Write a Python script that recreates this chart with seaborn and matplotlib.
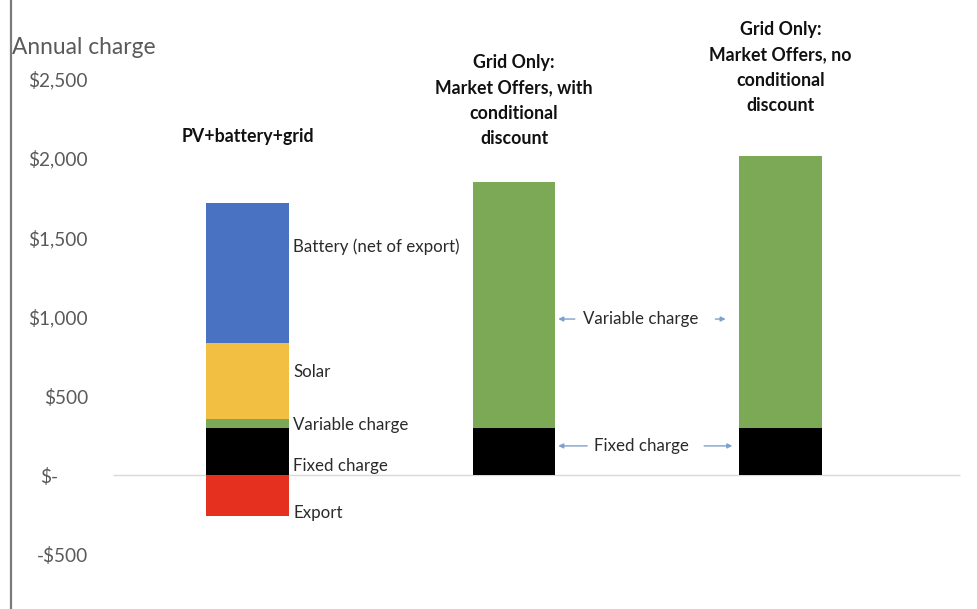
import matplotlib
matplotlib.use("Agg")
import matplotlib.pyplot as plt
from matplotlib.transforms import ScaledTranslation
import seaborn as sns
import pandas as pd

# ---- data ----
categories = ["PV+battery+grid",
              "Grid Only:\nMarket Offers, with\nconditional\ndiscount",
              "Grid Only:\nMarket Offers, no\nconditional\ndiscount"]
fixed_charge = [300, 300, 300]
variable_charge = [56, 1548, 1712]
solar = [478, 0, 0]
battery = [882, 0, 0]
export = [-255, 0, 0]
tick_values = [-500, 0, 500, 1000, 1500, 2000, 2500]
tick_labels = ["-$500", "$-", "$500", "$1,000", "$1,500", "$2,000", "$2,500"]

sns.set_theme(style="white")
plt.rcParams["font.family"] = ["Lato", "DejaVu Sans"]

fig = plt.figure(figsize=(9.78, 6.09), dpi=100)
ax = fig.add_axes([0, 0, 1, 1])

df = pd.DataFrame({"cat": categories, "fixed": fixed_charge, "variable": variable_charge,
                   "solar": solar, "battery": battery, "export": export})

W = 0.311
common = dict(x="cat", order=categories, width=W, saturation=1, errorbar=None,
              ax=ax, linewidth=0, edgecolor="none")
sns.barplot(data=df, y="fixed", color="#000000", **common)
sns.barplot(data=df, y="variable", bottom=df["fixed"], color="#7BA955", **common)
b2 = df["fixed"] + df["variable"]
sns.barplot(data=df, y="solar", bottom=b2, color="#F3BF43", **common)
b3 = b2 + df["solar"]
sns.barplot(data=df, y="battery", bottom=b3, color="#4A72C3", **common)
sns.barplot(data=df, y="export", color="#E5301F", **common)

# ---- axes layout ----
ax.set_xlim(-0.929, 2.741)
ax.set_ylim(-841, 2994)
for s in ax.spines.values():
    s.set_visible(False)
ax.set_xticks([])
ax.set_xlabel("")
ax.set_ylabel("")
ax.set_yticks(tick_values)
ax.set_yticklabels(tick_labels)
ax.tick_params(axis="y", length=0, pad=-63.4, labelsize=13.7, labelcolor="#5a5a5a")
for lab in ax.get_yticklabels():
    if lab.get_text() == "$-":
        lab.set_transform(lab.get_transform() + ScaledTranslation(-0.30, 0, fig.dpi_scale_trans))

# left vertical line and zero line
ax.axvline(-0.887, color="#7a7a7a", lw=1.6)
ax.hlines(0, -0.505, 2.674, color="#d9d9d9", lw=1.0, zorder=0)

fig.text(12 / 978, 1 - 47 / 609, "Annual charge", ha="left", va="center",
         fontsize=16.4, color="#5a5a5a")

# category titles
title_y = [2132, 2361, 2569]
for i, c in enumerate(categories):
    ax.text(i, title_y[i], c, ha="center", va="center", fontsize=12.8,
            fontweight="bold", color="#111111", linespacing=1.6)

# segment labels for first bar
seg_labels = ["Battery (net of export)", "Solar", "Variable charge", "Fixed charge", "Export"]
seg_y = [1439, 652, 318, 60, -236]
for t, y in zip(seg_labels, seg_y):
    ax.text(W / 2 + 0.015, y, t, ha="left", va="center", fontsize=12.2, color="#2a2a2a")

# arrow annotations between the grid-only bars
arrow_kw = dict(arrowstyle="-|>", color="#7f9fcc", lw=1.0, mutation_scale=7)
mid = 1.477
ax.text(mid, 985, "Variable charge", ha="center", va="center", fontsize=12.2, color="#2a2a2a")
ax.annotate("", xy=(1 + W / 2, 985), xytext=(1.083 + W / 2, 985), arrowprops=arrow_kw)
ax.annotate("", xy=(2 - W / 2 - 0.04, 985), xytext=(1.745, 985), arrowprops=arrow_kw)
ax.text(mid, 186, "Fixed charge", ha="center", va="center", fontsize=12.2, color="#2a2a2a")
ax.annotate("", xy=(1 + W / 2, 186), xytext=(1.285, 186), arrowprops=arrow_kw)
ax.annotate("", xy=(2 - W / 2 - 0.015, 186), xytext=(1.703, 186), arrowprops=arrow_kw)

fig.savefig("out.png", dpi=100)
